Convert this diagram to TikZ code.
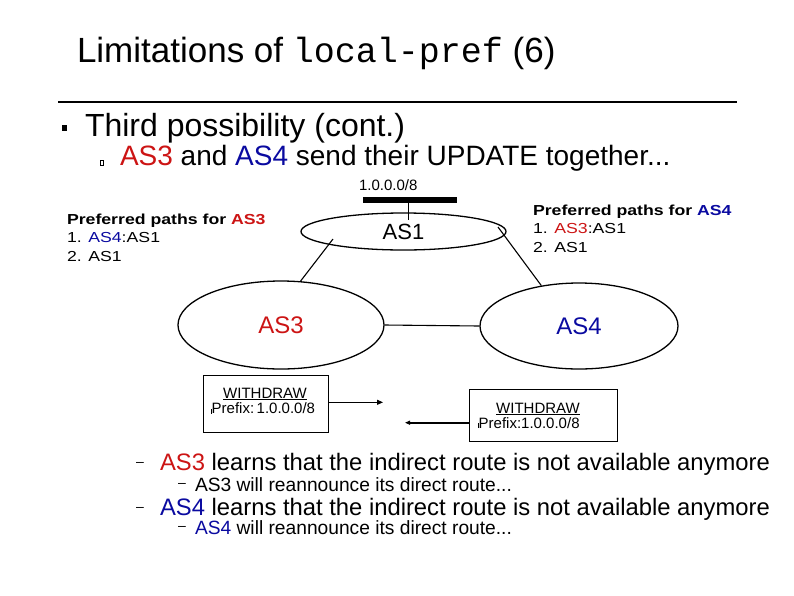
\documentclass[tikz,border=0pt]{standalone}
\usepackage{fontspec}
\usepackage{graphicx}
\setmainfont{Liberation Sans}
\setmonofont{Liberation Mono}
\usetikzlibrary{shapes.geometric,arrows.meta}
\definecolor{asred}{RGB}{204,20,20}
\definecolor{asblue}{RGB}{10,10,160}
\newcommand\myfs[1]{\fontsize{#1}{#1}\selectfont}
\newcommand\pp[1]{\scalebox{1.22}[1]{#1}}
\begin{document}
\begin{tikzpicture}[x=1pt,y=-1pt,
  txt/.style={inner sep=0pt, outer sep=0pt, anchor=base west},
  asell/.style={ellipse, draw, line width=1.3pt, inner sep=0pt},
  conn/.style={line width=1.1pt},
  wbox/.style={draw, line width=0.9pt, inner sep=0pt},
  dashmark/.style={txt, font=\myfs{14}}]
\useasboundingbox (0,0) rectangle (794,595);

% title
\node[txt, font=\myfs{35}] (title) at (77,62) {Limitations of \texttt{local-pref} (6)};
\draw[line width=2pt] (58,101.5) -- (737,101.5);

% bullets
\node[fill, inner sep=0pt, minimum size=5.5pt] (b1) at (64.5,128) {};
\node[txt, font=\myfs{32}] (third) at (85,136.7) {Third possibility (cont.)};
\node[draw, line width=0.6pt, inner sep=0pt, minimum width=3pt, minimum height=5pt] (b2) at (101.5,162.5) {};
\node[txt, font=\myfs{28}] (send) at (120,165) {\textcolor{asred}{AS3} and \textcolor{asblue}{AS4} send their UPDATE together...};

% prefix and bar
\node[txt, font=\myfs{15}] (pfx) at (359,190) {1.0.0.0/8};
\node[fill, inner sep=0pt, minimum width=94pt, minimum height=6pt] (bar) at (410,200) {};

% ASes
\node[asell, minimum width=205pt, minimum height=37pt, font=\myfs{22}] (AS1) at (403.5,231.5) {AS1};
\node[asell, minimum width=206pt, minimum height=88pt, font=\myfs{24}, text=asred] (AS3) at (281,325) {AS3};
\node[asell, minimum width=198pt, minimum height=86pt, font=\myfs{24}, text=asblue] (AS4) at (579,326) {AS4};

\coordinate (stub) at (408,220);
\draw[line width=1pt] (bar.south -| stub) -- (stub);
\coordinate (c13) at (333,239);
\coordinate (c14) at (498,227);
\draw[conn] (c13) -- (AS3.66.6);
\draw[conn] (c14) -- (AS4.133.6);
\draw[conn] (AS3.east) -- (AS4.west);

% preferred paths
\node[txt, font=\myfs{14.5}] (p3a) at (67,224) {\pp{\textbf{Preferred paths for \textcolor{asred}{AS3}}}};
\node[txt, font=\myfs{14.5}] (p3b) at (67,242.5) {\pp{1. \textcolor{asblue}{AS4}:AS1}};
\node[txt, font=\myfs{14.5}] (p3c) at (67,261) {\pp{2. AS1}};
\node[txt, font=\myfs{14.5}] (p4a) at (533,215) {\pp{\textbf{Preferred paths for \textcolor{asblue}{AS4}}}};
\node[txt, font=\myfs{14.5}] (p4b) at (533,233.5) {\pp{1. \textcolor{asred}{AS3}:AS1}};
\node[txt, font=\myfs{14.5}] (p4c) at (533,252) {\pp{2. AS1}};

% withdraw boxes
\node[wbox, minimum width=125pt, minimum height=57pt] (box1) at (265.5,403.5) {};
\node[txt, anchor=base, font=\myfs{15}] (w1) at (265,398) {\underline{WITHDRAW}};
\node[txt, font=\myfs{15}] (pr1) at (211,413.5) {\rule{0.7pt}{5pt}Prefix:\,1.0.0.0/8};
\node[wbox, minimum width=148pt, minimum height=52pt] (box2) at (543,415.8) {};
\node[txt, anchor=base, font=\myfs{15}] (w2) at (538,413) {\underline{WITHDRAW}};
\node[txt, font=\myfs{15}] (pr2) at (478,428) {\rule{0.7pt}{5pt}Prefix:1.0.0.0/8};

\coordinate (a1) at (383,402.3);
\coordinate (a2) at (405,422.7);
\draw[line width=1pt, -{Triangle[length=6pt,width=5pt]}] (box1.east |- a1) -- (a1);
\draw[line width=2pt, -{Triangle[length=5pt,width=4pt]}] (box2.west |- a2) -- (a2);

% bottom text
\node[dashmark] (d1) at (136,466) {–};
\node[txt, font=\myfs{23.8}] (l1) at (160,470) {\textcolor{asred}{AS3} learns that the indirect route is not available anymore};
\node[dashmark] (d2) at (178,487) {–};
\node[txt, font=\myfs{19.2}] (l2) at (195,491) {AS3 will reannounce its direct route...};
\node[dashmark] (d3) at (136,511) {–};
\node[txt, font=\myfs{23.8}] (l3) at (160,515) {\textcolor{asblue}{AS4} learns that the indirect route is not available anymore};
\node[dashmark] (d4) at (178,530) {–};
\node[txt, font=\myfs{19.2}] (l4) at (195,534) {\textcolor{asblue}{AS4} will reannounce its direct route...};
\end{tikzpicture}
\end{document}
